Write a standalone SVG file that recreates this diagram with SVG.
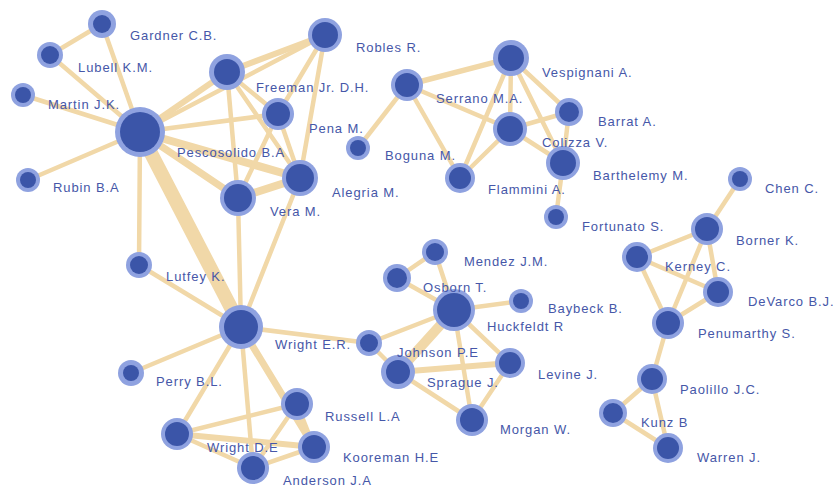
<svg xmlns="http://www.w3.org/2000/svg" width="833" height="488" viewBox="0 0 833 488">
<style>
.e{stroke:#f1d8a8;stroke-linecap:round;fill:none;stroke-width:4.5}
.o{fill:#8fa2e0}
.i{fill:#3b55a8}
text{font-family:"Liberation Sans",Arial,sans-serif;font-size:13px;letter-spacing:0.9px;fill:#4657a8}
</style>
<rect width="833" height="488" fill="#ffffff"/>
<g id="edges">
<line class="e" x1="102" y1="24" x2="50" y2="55"/>
<line class="e" x1="102" y1="24" x2="140" y2="132"/>
<line class="e" x1="50" y1="55" x2="140" y2="132"/>
<line class="e" x1="23" y1="95" x2="140" y2="132"/>
<line class="e" x1="28" y1="180" x2="140" y2="132"/>
<line class="e" x1="140" y1="132" x2="227" y2="72" style="stroke-width:6"/>
<line class="e" x1="140" y1="132" x2="325" y2="35"/>
<line class="e" x1="140" y1="132" x2="278" y2="114"/>
<line class="e" x1="140" y1="132" x2="300" y2="178" style="stroke-width:8"/>
<line class="e" x1="140" y1="132" x2="238" y2="198" style="stroke-width:7"/>
<line class="e" x1="140" y1="132" x2="139" y2="265"/>
<line class="e" x1="140" y1="132" x2="241" y2="327" style="stroke-width:14"/>
<line class="e" x1="227" y1="72" x2="325" y2="35" style="stroke-width:6"/>
<line class="e" x1="227" y1="72" x2="278" y2="114"/>
<line class="e" x1="227" y1="72" x2="238" y2="198"/>
<line class="e" x1="227" y1="72" x2="300" y2="178"/>
<line class="e" x1="325" y1="35" x2="278" y2="114"/>
<line class="e" x1="325" y1="35" x2="300" y2="178"/>
<line class="e" x1="278" y1="114" x2="300" y2="178"/>
<line class="e" x1="278" y1="114" x2="238" y2="198"/>
<line class="e" x1="300" y1="178" x2="238" y2="198" style="stroke-width:8"/>
<line class="e" x1="300" y1="178" x2="241" y2="327"/>
<line class="e" x1="238" y1="198" x2="241" y2="327"/>
<line class="e" x1="358" y1="148" x2="407" y2="85"/>
<line class="e" x1="407" y1="85" x2="511" y2="58" style="stroke-width:5.5"/>
<line class="e" x1="407" y1="85" x2="510" y2="129"/>
<line class="e" x1="407" y1="85" x2="460" y2="178"/>
<line class="e" x1="511" y1="58" x2="510" y2="129"/>
<line class="e" x1="511" y1="58" x2="569" y2="112"/>
<line class="e" x1="511" y1="58" x2="563" y2="163"/>
<line class="e" x1="511" y1="58" x2="460" y2="178"/>
<line class="e" x1="510" y1="129" x2="569" y2="112"/>
<line class="e" x1="510" y1="129" x2="563" y2="163"/>
<line class="e" x1="510" y1="129" x2="460" y2="178"/>
<line class="e" x1="569" y1="112" x2="563" y2="163"/>
<line class="e" x1="563" y1="163" x2="556" y2="217"/>
<line class="e" x1="740" y1="179" x2="707" y2="229"/>
<line class="e" x1="707" y1="229" x2="637" y2="257"/>
<line class="e" x1="707" y1="229" x2="718" y2="292"/>
<line class="e" x1="707" y1="229" x2="668" y2="323"/>
<line class="e" x1="637" y1="257" x2="718" y2="292"/>
<line class="e" x1="637" y1="257" x2="668" y2="323"/>
<line class="e" x1="718" y1="292" x2="668" y2="323"/>
<line class="e" x1="668" y1="323" x2="652" y2="379"/>
<line class="e" x1="652" y1="379" x2="613" y2="413"/>
<line class="e" x1="652" y1="379" x2="668" y2="448"/>
<line class="e" x1="613" y1="413" x2="668" y2="448"/>
<line class="e" x1="435" y1="252" x2="397" y2="278"/>
<line class="e" x1="435" y1="252" x2="454" y2="310"/>
<line class="e" x1="397" y1="278" x2="454" y2="310"/>
<line class="e" x1="454" y1="310" x2="521" y2="301"/>
<line class="e" x1="454" y1="310" x2="369" y2="343"/>
<line class="e" x1="454" y1="310" x2="398" y2="372" style="stroke-width:10"/>
<line class="e" x1="454" y1="310" x2="510" y2="363"/>
<line class="e" x1="454" y1="310" x2="472" y2="420"/>
<line class="e" x1="369" y1="343" x2="398" y2="372"/>
<line class="e" x1="369" y1="343" x2="241" y2="327"/>
<line class="e" x1="398" y1="372" x2="510" y2="363" style="stroke-width:6"/>
<line class="e" x1="398" y1="372" x2="472" y2="420"/>
<line class="e" x1="510" y1="363" x2="472" y2="420"/>
<line class="e" x1="241" y1="327" x2="139" y2="265"/>
<line class="e" x1="241" y1="327" x2="131" y2="373"/>
<line class="e" x1="241" y1="327" x2="177" y2="434"/>
<line class="e" x1="241" y1="327" x2="253" y2="468"/>
<line class="e" x1="241" y1="327" x2="314" y2="447" style="stroke-width:7"/>
<line class="e" x1="177" y1="434" x2="297" y2="404"/>
<line class="e" x1="177" y1="434" x2="253" y2="468"/>
<line class="e" x1="177" y1="434" x2="314" y2="447" style="stroke-width:6"/>
<line class="e" x1="297" y1="404" x2="253" y2="468"/>
<line class="e" x1="297" y1="404" x2="314" y2="447"/>
<line class="e" x1="253" y1="468" x2="314" y2="447"/>
</g>
<g id="n-gardner"><circle class="o" cx="102" cy="24" r="14"/><circle class="i" cx="102" cy="24" r="9"/></g>
<g id="n-lubell"><circle class="o" cx="50" cy="55" r="13"/><circle class="i" cx="50" cy="55" r="9"/></g>
<g id="n-martin"><circle class="o" cx="23" cy="95" r="12"/><circle class="i" cx="23" cy="95" r="8"/></g>
<g id="n-rubin"><circle class="o" cx="28" cy="180" r="12"/><circle class="i" cx="28" cy="180" r="8"/></g>
<g id="n-pescosolido"><circle class="o" cx="140" cy="132" r="25"/><circle class="i" cx="140" cy="132" r="20"/></g>
<g id="n-freeman"><circle class="o" cx="227" cy="72" r="18"/><circle class="i" cx="227" cy="72" r="13"/></g>
<g id="n-robles"><circle class="o" cx="325" cy="35" r="17"/><circle class="i" cx="325" cy="35" r="13"/></g>
<g id="n-pena"><circle class="o" cx="278" cy="114" r="16"/><circle class="i" cx="278" cy="114" r="12"/></g>
<g id="n-alegria"><circle class="o" cx="300" cy="178" r="18"/><circle class="i" cx="300" cy="178" r="14"/></g>
<g id="n-vera"><circle class="o" cx="238" cy="198" r="18"/><circle class="i" cx="238" cy="198" r="14"/></g>
<g id="n-boguna"><circle class="o" cx="358" cy="148" r="12"/><circle class="i" cx="358" cy="148" r="8"/></g>
<g id="n-serrano-l"><circle class="o" cx="407" cy="85" r="16"/><circle class="i" cx="407" cy="85" r="12"/></g>
<g id="n-vespignani"><circle class="o" cx="511" cy="58" r="18"/><circle class="i" cx="511" cy="58" r="13"/></g>
<g id="n-barrat"><circle class="o" cx="569" cy="112" r="14"/><circle class="i" cx="569" cy="112" r="10"/></g>
<g id="n-serrano"><circle class="o" cx="510" cy="129" r="17"/><circle class="i" cx="510" cy="129" r="13"/></g>
<g id="n-colizza"><circle class="o" cx="563" cy="163" r="17"/><circle class="i" cx="563" cy="163" r="13"/></g>
<g id="n-flammini"><circle class="o" cx="460" cy="178" r="15"/><circle class="i" cx="460" cy="178" r="11"/></g>
<g id="n-barthelemy"><circle class="o" cx="556" cy="217" r="12"/><circle class="i" cx="556" cy="217" r="8"/></g>
<g id="n-chen"><circle class="o" cx="740" cy="179" r="12"/><circle class="i" cx="740" cy="179" r="8"/></g>
<g id="n-borner"><circle class="o" cx="707" cy="229" r="16"/><circle class="i" cx="707" cy="229" r="12"/></g>
<g id="n-fortunato"><circle class="o" cx="637" cy="257" r="15"/><circle class="i" cx="637" cy="257" r="11"/></g>
<g id="n-devarco"><circle class="o" cx="718" cy="292" r="15"/><circle class="i" cx="718" cy="292" r="11"/></g>
<g id="n-penumarthy"><circle class="o" cx="668" cy="323" r="16"/><circle class="i" cx="668" cy="323" r="12"/></g>
<g id="n-paolillo"><circle class="o" cx="652" cy="379" r="15"/><circle class="i" cx="652" cy="379" r="11"/></g>
<g id="n-kunz"><circle class="o" cx="613" cy="413" r="14"/><circle class="i" cx="613" cy="413" r="10"/></g>
<g id="n-warren"><circle class="o" cx="668" cy="448" r="15"/><circle class="i" cx="668" cy="448" r="11"/></g>
<g id="n-mendez"><circle class="o" cx="435" cy="252" r="13"/><circle class="i" cx="435" cy="252" r="9"/></g>
<g id="n-mendez2"><circle class="o" cx="397" cy="278" r="14"/><circle class="i" cx="397" cy="278" r="10"/></g>
<g id="n-osborn"><circle class="o" cx="454" cy="310" r="21"/><circle class="i" cx="454" cy="310" r="17"/></g>
<g id="n-baybeck"><circle class="o" cx="521" cy="301" r="12"/><circle class="i" cx="521" cy="301" r="8"/></g>
<g id="n-wright-er"><circle class="o" cx="369" cy="343" r="13"/><circle class="i" cx="369" cy="343" r="9"/></g>
<g id="n-johnson"><circle class="o" cx="398" cy="372" r="17"/><circle class="i" cx="398" cy="372" r="12"/></g>
<g id="n-levine"><circle class="o" cx="510" cy="363" r="15"/><circle class="i" cx="510" cy="363" r="11"/></g>
<g id="n-morgan"><circle class="o" cx="472" cy="420" r="16"/><circle class="i" cx="472" cy="420" r="12"/></g>
<g id="n-hub"><circle class="o" cx="241" cy="327" r="22"/><circle class="i" cx="241" cy="327" r="17"/></g>
<g id="n-lutfey"><circle class="o" cx="139" cy="265" r="13"/><circle class="i" cx="139" cy="265" r="9"/></g>
<g id="n-perry"><circle class="o" cx="131" cy="373" r="13"/><circle class="i" cx="131" cy="373" r="8"/></g>
<g id="n-russell"><circle class="o" cx="297" cy="404" r="16"/><circle class="i" cx="297" cy="404" r="12"/></g>
<g id="n-wright-de"><circle class="o" cx="177" cy="434" r="16"/><circle class="i" cx="177" cy="434" r="12"/></g>
<g id="n-kooreman"><circle class="o" cx="314" cy="447" r="16"/><circle class="i" cx="314" cy="447" r="12"/></g>
<g id="n-anderson"><circle class="o" cx="253" cy="468" r="16"/><circle class="i" cx="253" cy="468" r="12"/></g>
<g id="labels">
<text x="130" y="40">Gardner C.B.</text>
<text x="78" y="72">Lubell K.M.</text>
<text x="48" y="109">Martin J.K.</text>
<text x="177" y="157">Pescosolido B.A</text>
<text x="53" y="192">Rubin B.A</text>
<text x="256" y="92">Freeman Jr. D.H.</text>
<text x="356" y="52">Robles R.</text>
<text x="309" y="133">Pena M.</text>
<text x="385" y="160">Boguna M.</text>
<text x="332" y="197">Alegria M.</text>
<text x="270" y="216">Vera M.</text>
<text x="542" y="77">Vespignani A.</text>
<text x="436" y="103">Serrano M.A.</text>
<text x="598" y="126">Barrat A.</text>
<text x="542" y="147">Colizza V.</text>
<text x="593" y="180">Barthelemy M.</text>
<text x="488" y="194">Flammini A.</text>
<text x="582" y="231">Fortunato S.</text>
<text x="765" y="193">Chen C.</text>
<text x="736" y="245">Borner K.</text>
<text x="665" y="271">Kerney C.</text>
<text x="748" y="306">DeVarco B.J.</text>
<text x="698" y="338">Penumarthy S.</text>
<text x="680" y="394">Paolillo J.C.</text>
<text x="641" y="427">Kunz B</text>
<text x="697" y="462">Warren J.</text>
<text x="464" y="266">Mendez J.M.</text>
<text x="423" y="292">Osborn T.</text>
<text x="548" y="313">Baybeck B.</text>
<text x="487" y="331">Huckfeldt R</text>
<text x="397" y="357">Johnson P.E</text>
<text x="538" y="379">Levine J.</text>
<text x="427" y="387">Sprague J.</text>
<text x="500" y="434">Morgan W.</text>
<text x="275" y="349">Wright E.R.</text>
<text x="166" y="281">Lutfey K.</text>
<text x="156" y="386">Perry B.L.</text>
<text x="325" y="421">Russell L.A</text>
<text x="207" y="452">Wright D.E</text>
<text x="343" y="462">Kooreman H.E</text>
<text x="283" y="485">Anderson J.A</text>
</g>
</svg>
